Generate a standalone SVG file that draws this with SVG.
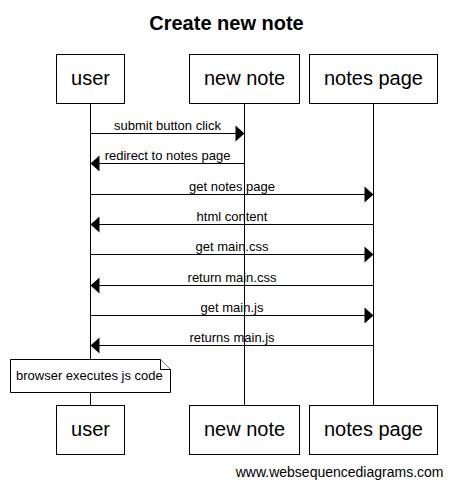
<svg xmlns="http://www.w3.org/2000/svg" width="452" height="488" viewBox="0 0 452 488">
<style>
text{font-family:"Liberation Sans",Arial,sans-serif;fill:#000}
.title{font-size:20px;font-weight:bold;text-anchor:middle}
.box{fill:#fff;stroke:#000;stroke-width:1}
.plabel{font-size:20px;text-anchor:middle}
.life{stroke:#000;stroke-width:1}
.msg{stroke:#000;stroke-width:1;fill:none}
.mlabel{font-size:13px;text-anchor:middle}
.head{fill:#000}
.note{fill:#fff;stroke:#000;stroke-width:1}
.ntext{font-size:13px}
.footer{font-size:14px;text-anchor:end}
</style>
<rect width="452" height="488" fill="#fff"/>
<text class="title" x="226.5" y="29.5">Create new note</text>
<g id="lifelines">
<line class="life" x1="90.5" y1="103" x2="90.5" y2="405"/>
<line class="life" x1="244.5" y1="103" x2="244.5" y2="405"/>
<line class="life" x1="373.5" y1="103" x2="373.5" y2="405"/>
</g>
<g id="user">
<rect class="box" x="56.5" y="54.5" width="68" height="49"/>
<text class="plabel" x="90.5" y="85">user</text>
<rect class="box" x="56.5" y="405.5" width="68" height="49"/>
<text class="plabel" x="90.5" y="436">user</text>
</g>
<g id="new-note">
<rect class="box" x="189.5" y="54.5" width="110" height="49"/>
<text class="plabel" x="244.5" y="85">new note</text>
<rect class="box" x="189.5" y="405.5" width="110" height="49"/>
<text class="plabel" x="244.5" y="436">new note</text>
</g>
<g id="notes-page">
<rect class="box" x="309.5" y="54.5" width="128" height="49"/>
<text class="plabel" x="373.5" y="85">notes page</text>
<rect class="box" x="309.5" y="405.5" width="128" height="49"/>
<text class="plabel" x="373.5" y="436">notes page</text>
</g>
<g id="connectors">
<line class="msg" x1="90.5" y1="133.5" x2="236" y2="133.5"/>
<polygon class="head" points="244.5,133.5 235.5,125.5 235.5,141.5"/>
<text class="mlabel" x="167.5" y="130">submit button click</text>

<line class="msg" x1="244.5" y1="163.5" x2="99" y2="163.5"/>
<polygon class="head" points="90.5,163.5 99.5,155.5 99.5,171.5"/>
<text class="mlabel" x="167.5" y="160">redirect to notes page</text>

<line class="msg" x1="90.5" y1="194.5" x2="365" y2="194.5"/>
<polygon class="head" points="373.5,194.5 364.5,186.5 364.5,202.5"/>
<text class="mlabel" x="232" y="191">get notes page</text>

<line class="msg" x1="373.5" y1="224.5" x2="99" y2="224.5"/>
<polygon class="head" points="90.5,224.5 99.5,216.5 99.5,232.5"/>
<text class="mlabel" x="232" y="221">html content</text>

<line class="msg" x1="90.5" y1="254.5" x2="365" y2="254.5"/>
<polygon class="head" points="373.5,254.5 364.5,246.5 364.5,262.5"/>
<text class="mlabel" x="232" y="251">get main.css</text>

<line class="msg" x1="373.5" y1="285.5" x2="99" y2="285.5"/>
<polygon class="head" points="90.5,285.5 99.5,277.5 99.5,293.5"/>
<text class="mlabel" x="232" y="282">return main.css</text>

<line class="msg" x1="90.5" y1="315.5" x2="365" y2="315.5"/>
<polygon class="head" points="373.5,315.5 364.5,307.5 364.5,323.5"/>
<text class="mlabel" x="232" y="312">get main.js</text>

<line class="msg" x1="373.5" y1="345.5" x2="99" y2="345.5"/>
<polygon class="head" points="90.5,345.5 99.5,337.5 99.5,353.5"/>
<text class="mlabel" x="232" y="342">returns main.js</text>
</g>
<g id="note">
<path class="note" d="M10.5,359.5 H160.5 L170.5,369.5 V392.5 H10.5 Z"/>
<path class="note" d="M160.5,359.5 V369.5 H170.5"/>
<text class="ntext" x="16" y="379.5">browser executes js code</text>
</g>
<text class="footer" x="443.5" y="477">www.websequencediagrams.com</text>
</svg>
